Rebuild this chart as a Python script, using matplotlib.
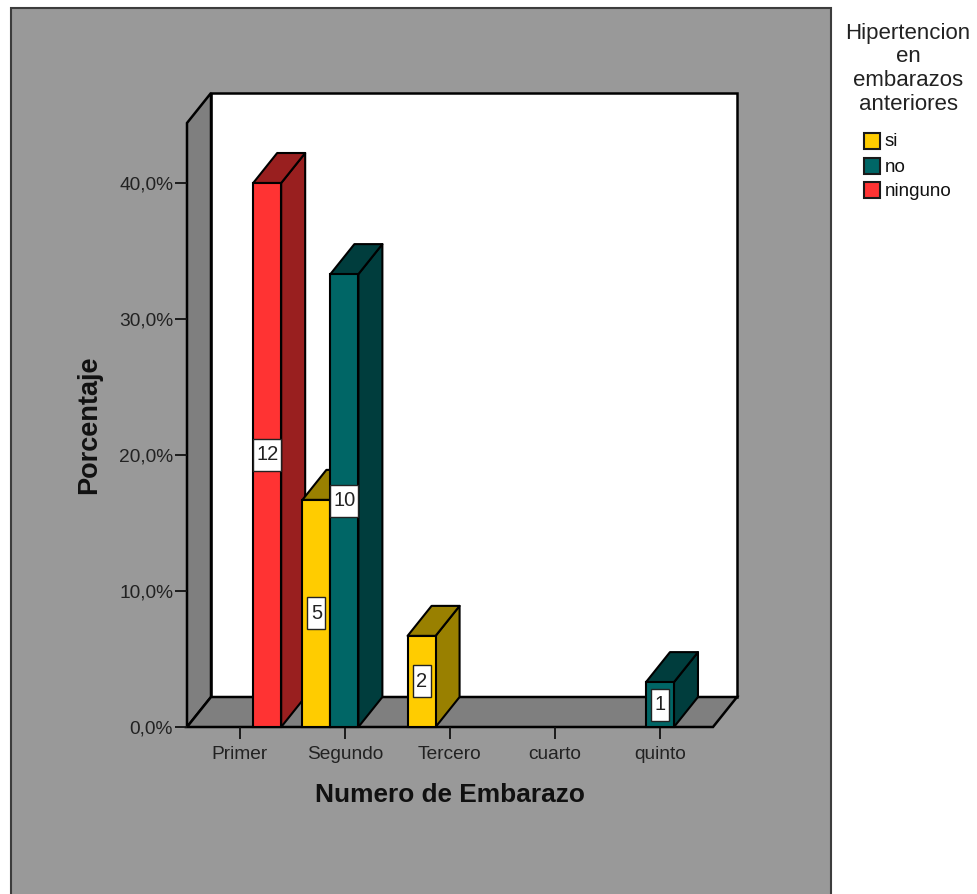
import matplotlib
matplotlib.use('Agg')
import matplotlib.pyplot as plt
from matplotlib.patches import Polygon, Rectangle

plt.rcParams['font.family'] = ['Liberation Sans', 'DejaVu Sans']

# Datos del grafico
embarazos = ['Primer', 'Segundo', 'Tercero', 'cuarto', 'quinto']
grupos = ['si', 'no', 'ninguno']
pct_si = [0, 16.7, 6.7, 0, 0]
pct_no = [0, 33.3, 0, 0, 3.3]
pct_ninguno = [40.0, 0, 0, 0, 0]
n_si = [0, 5, 2, 0, 0]
n_no = [0, 10, 0, 0, 1]
n_ninguno = [12, 0, 0, 0, 0]
y_ticks = [0, 10, 20, 30, 40]
y_labels = ['0,0%', '10,0%', '20,0%', '30,0%', '40,0%']

colores = {'si': '#FFCC00', 'no': '#006666', 'ninguno': '#FF3333'}
laterales = {'si': '#998000', 'no': '#003D3D', 'ninguno': '#991F1F'}

W, H = 977, 894
fig = plt.figure(figsize=(W / 100, H / 100), dpi=100, facecolor='white')

# Capa de fondo en pixeles: panel gris y leyenda
fondo = fig.add_axes([0, 0, 1, 1])
fondo.set_xlim(0, W)
fondo.set_ylim(H, 0)
fondo.axis('off')
fondo.add_patch(Rectangle((11, 8), 820, 900, fc='#999999', ec='#3c3c3c', lw=1.5))

for i, linea in enumerate(['Hipertencion', 'en', 'embarazos', 'anteriores']):
    fondo.text(908, 33 + i * 24, linea, ha='center', va='center', fontsize=16, color='#222222')
for grupo, y in zip(grupos, [141, 166, 190]):
    fondo.add_patch(Rectangle((864, y - 8), 16, 16, fc=colores[grupo], ec='#1a1a1a', lw=1.5))
    fondo.text(885, y + 1, grupo, ha='left', va='center', fontsize=13.5, color='#111111')

# Ejes principales: x de 0 a 5 categorias, y en porcentaje
x0, x1, y_base = 187, 713, 727
px_pct = 13.6
y_max = (y_base - 123) / px_pct
ax = fig.add_axes([x0 / W, 1 - y_base / H, (x1 - x0) / W, (y_base - 123) / H])
ax.set_xlim(0, 5)
ax.set_ylim(0, y_max)
ax.patch.set_alpha(0)

px_x = 5 / (x1 - x0)
dx = 24 * px_x
dy = 30 / px_pct

# Paredes y suelo
ax.add_patch(Polygon([(dx, dy), (5 + dx, dy), (5 + dx, y_max + dy), (dx, y_max + dy)],
                     fc='white', ec='black', lw=1.8, clip_on=False, zorder=1))
ax.add_patch(Polygon([(0, 0), (dx, dy), (dx, y_max + dy), (0, y_max)],
                     fc='#7F7F7F', ec='black', lw=1.8, clip_on=False, zorder=1))
ax.add_patch(Polygon([(0, 0), (5, 0), (5 + dx, dy), (dx, dy)],
                     fc='#7F7F7F', ec='black', lw=1.8, clip_on=False, zorder=1))

ancho = 28 * px_x


def barra(cat, pos, valor, grupo):
    # Barra 3D: cara lateral, superior y frontal
    izq = cat + 0.5 + pos * ancho - ancho / 2 - 0.004
    der = izq + ancho
    lados = dict(fc=laterales[grupo], ec='black', lw=1.5, clip_on=False, zorder=3, joinstyle='round')
    ax.add_patch(Polygon([(der, 0), (der + dx, dy), (der + dx, valor + dy), (der, valor)], **lados))
    ax.add_patch(Polygon([(izq, valor), (der, valor), (der + dx, valor + dy), (izq + dx, valor + dy)], **lados))
    ax.add_patch(Rectangle((izq, 0), ancho, valor, fc=colores[grupo], ec='black', lw=1.5,
                           clip_on=False, zorder=3))


def etiqueta(cat, pos, valor, n):
    # Recuadro blanco con el recuento, en el centro de la barra
    cx = cat + 0.5 + pos * ancho - 0.004
    w = (28 if n >= 10 else 18) * px_x
    h = 32 / px_pct
    ax.add_patch(Rectangle((cx - w / 2, valor / 2 - h / 2), w, h, fc='white', ec='#222222',
                           lw=1.0, clip_on=False, zorder=5))
    ax.text(cx, valor / 2, str(n), ha='center', va='center', fontsize=14.5, color='#222222', zorder=6)


series = [('si', -1, pct_si, n_si), ('no', 0, pct_no, n_no), ('ninguno', 1, pct_ninguno, n_ninguno)]

# De izquierda a derecha para que cada barra tape el lateral de la anterior
for cat in range(len(embarazos)):
    for grupo, pos, valores, cuentas in series:
        if valores[cat] > 0:
            barra(cat, pos, valores[cat], grupo)
for cat in range(len(embarazos)):
    for grupo, pos, valores, cuentas in series:
        if valores[cat] > 0:
            etiqueta(cat, pos, valores[cat], cuentas[cat])

# Ejes y textos
for lado in ['top', 'right', 'left', 'bottom']:
    ax.spines[lado].set_visible(False)
ax.set_xticks([i + 0.5 for i in range(5)])
ax.set_xticklabels(embarazos, fontsize=13.8, color='#222222')
ax.set_yticks(y_ticks)
ax.set_yticklabels(y_labels, fontsize=13.8, color='#222222')
ax.tick_params(axis='x', length=8.5, width=1.3, color='#111111', pad=5)
ax.tick_params(axis='y', length=8.5, width=1.3, color='#111111', pad=1.5)

fondo.text(450, 795, 'Numero de Embarazo', ha='center', va='center', fontsize=18.9,
           fontweight='bold', color='#111111')
fondo.text(89, 425, 'Porcentaje', ha='center', va='center', rotation=90, fontsize=19.5,
           fontweight='bold', color='#111111')

fig.savefig('out.png', dpi=100, facecolor=fig.get_facecolor())
